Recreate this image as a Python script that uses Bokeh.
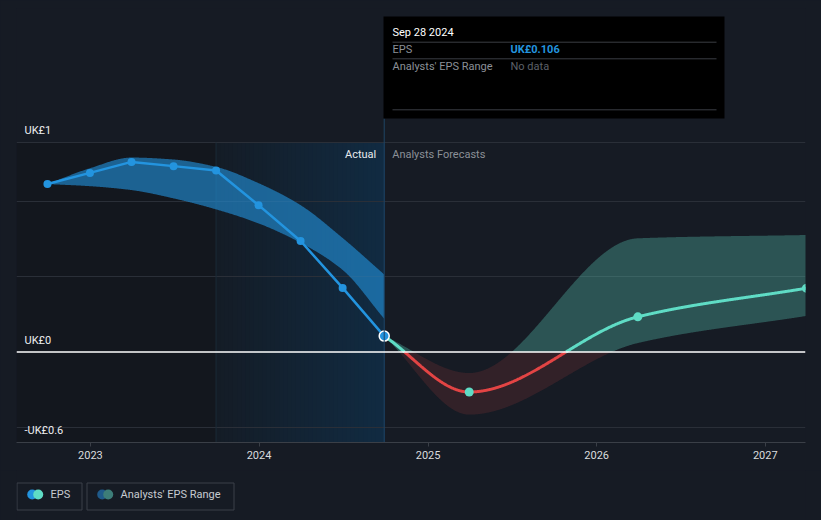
import numpy as np
from bokeh.plotting import figure
from bokeh.models import Range1d, FixedTicker, DatetimeTickFormatter, Grid, Span
from bokeh.layouts import column
from bokeh.core.properties import value
from bokeh.embed import file_html
from bokeh.resources import INLINE

# ---------------- data ----------------
past_dates = ["2022-09-30", "2022-12-31", "2023-03-31", "2023-06-30", "2023-09-30",
              "2023-12-31", "2024-03-31", "2024-06-30", "2024-09-28"]
past_eps = [1.115, 1.189, 1.262, 1.234, 1.205, 0.975, 0.737, 0.426, 0.106]
past_range_high = [1.115, 1.22, 1.291, 1.278, 1.229, 1.121, 0.975, 0.757, 0.515]
past_range_low = [1.115, 1.101, 1.075, 1.02, 0.947, 0.854, 0.725, 0.545, 0.221]

fc_dates = ["2024-09-28", "2025-03-31", "2026-03-31", "2027-03-31"]
fc_eps = [0.106, -0.265, 0.234, 0.424]
fc_high = [0.106, -0.139, 0.755, 0.777]
fc_low = [0.106, -0.415, 0.06, 0.24]

actual_window_start = "2023-09-30"
hover_date = "2024-09-28"
hover_label = "Sep 28 2024"
hover_eps_text = "UK£0.106"

year_ticks = ["2023-01-01", "2024-01-01", "2025-01-01", "2026-01-01", "2027-01-01"]
year_labels = ["2023", "2024", "2025", "2026", "2027"]
y_label_values = [1.39, 0.0, -0.6]
y_labels = ["UK£1", "UK£0", "-UK£0.6"]
grid_values = [-0.5, 0.5, 1.0, 1.39]

# ---------------- styling ----------------
BG = "#161b24"
LEFT_DARK = "#13171e"
GRID = "#2a2f38"
AXIS = "#3a3f47"
BLUE = "#2394df"
TEAL = "#5fdcc5"
RED = "#e34444"
FONT = "Roboto"

X0, X1 = "2022-07-25", "2027-03-29"
Y0, Y1 = -0.6, 2.28
FRAME_L, FRAME_R, FRAME_T, FRAME_B = 16, 805, 8, 442  # page pixels
W, H_MAIN, H_LEG = 821, 470, 50


def ms(d):
    return float(np.datetime64(d, "ms").astype("int64"))


DAY = 86400000.0
xs0, xs1 = ms(X0), ms(X1)


def PX(px):
    return xs0 + (px - FRAME_L) / (FRAME_R - FRAME_L) * (xs1 - xs0)


def PY(py):
    return Y1 - (py - FRAME_T) / (FRAME_B - FRAME_T) * (Y1 - Y0)


def pchip(xk, yk, xq):
    xk = np.asarray(xk, float); yk = np.asarray(yk, float); xq = np.asarray(xq, float)
    h = np.diff(xk); d = np.diff(yk) / h
    n = len(xk)
    m = np.zeros(n)
    for k in range(1, n - 1):
        if d[k - 1] * d[k] > 0:
            w1 = 2 * h[k] + h[k - 1]; w2 = h[k] + 2 * h[k - 1]
            m[k] = (w1 + w2) / (w1 / d[k - 1] + w2 / d[k])
    m[0] = d[0]; m[-1] = d[-1]
    idx = np.clip(np.searchsorted(xk, xq, side="right") - 1, 0, n - 2)
    t = (xq - xk[idx]) / h[idx]
    h00 = 2 * t**3 - 3 * t**2 + 1; h10 = t**3 - 2 * t**2 + t
    h01 = -2 * t**3 + 3 * t**2; h11 = t**3 - t**2
    return h00 * yk[idx] + h10 * h[idx] * m[idx] + h01 * yk[idx + 1] + h11 * h[idx] * m[idx + 1]


# ---------------- main figure ----------------
p = figure(width=W, height=H_MAIN, x_axis_type="datetime",
           x_range=Range1d(xs0, xs1), y_range=Range1d(Y0, Y1),
           y_axis_location=None, output_backend="svg", toolbar_location=None,
           min_border_left=FRAME_L, min_border_right=W - FRAME_R, min_border_top=FRAME_T,
           min_border_bottom=H_MAIN - FRAME_B,
           background_fill_color=BG, border_fill_color=BG, outline_line_color=None)
p.grid.visible = False
p.add_layout(Grid(dimension=1, ticker=FixedTicker(ticks=grid_values),
                  grid_line_color=GRID, grid_line_width=1))

tick_ms = [ms(d) for d in year_ticks]
ax = p.xaxis[0]
ax.ticker = FixedTicker(ticks=tick_ms)
fmt = "%Y"
ax.formatter = DatetimeTickFormatter(years=fmt, months=fmt, days=fmt, hours=fmt, hourmin=fmt,
                                     minutes=fmt, minsec=fmt, seconds=fmt,
                                     milliseconds=fmt, microseconds=fmt)
ax.major_label_overrides = {t: lab for t, lab in zip(tick_ms, year_labels)}
ax.axis_line_color = AXIS
ax.major_tick_line_color = AXIS
ax.major_tick_in = 0
ax.major_tick_out = 4
ax.minor_tick_line_color = None
ax.major_label_text_color = "#d9dbde"
ax.major_label_text_font = FONT
ax.major_label_text_font_size = "11px"
ax.major_label_standoff = 4

x_hover = ms(hover_date)
x_win = ms(actual_window_start)
top_grid = grid_values[-1]

# darker past area and gradient "actual" window (drawn beneath the grid)
p.quad(left=[xs0], right=[x_win], bottom=[Y0], top=[top_grid],
       fill_color=LEFT_DARK, line_color=None, level="image")
N = 40
edges = np.linspace(x_win, x_hover, N + 1)
c0 = np.array([20, 28, 38]); c1 = np.array([17, 43, 66])
cols = ["#%02x%02x%02x" % tuple(np.round(c0 + (c1 - c0) * (i + 0.5) / N).astype(int)) for i in range(N)]
p.quad(left=edges[:-1], right=[x_hover] * N, bottom=[Y0] * N, top=[top_grid] * N,
       fill_color=cols, line_color=None, level="image")
p.segment(x0=[x_win], y0=[Y0], x1=[x_win], y1=[top_grid], line_color="#1b2a38", line_width=1)

# past range band
pd_days = np.array([ms(d) for d in past_dates]) / DAY
tq = np.linspace(pd_days[0], pd_days[-1], 500)
p.varea(x=tq * DAY, y1=pchip(pd_days, past_range_low, tq), y2=pchip(pd_days, past_range_high, tq),
        fill_color=BLUE, fill_alpha=0.6)

# forecast band and line
fd_days = np.array([ms(d) for d in fc_dates]) / DAY
fq = np.linspace(fd_days[0], fd_days[-1], 900)
hi = pchip(fd_days, fc_high, fq)
lo = pchip(fd_days, fc_low, fq)
p.varea(x=fq * DAY, y1=np.maximum(lo, 0), y2=np.maximum(hi, 0), fill_color=TEAL, fill_alpha=0.3)
p.varea(x=fq * DAY, y1=np.minimum(lo, 0), y2=np.minimum(hi, 0), fill_color=RED, fill_alpha=0.14)

fy = pchip(fd_days, fc_eps, fq)
xx, yy = [fq[0]], [fy[0]]
for i in range(1, len(fq)):
    if fy[i - 1] * fy[i] < 0:
        xc = fq[i - 1] + (fq[i] - fq[i - 1]) * fy[i - 1] / (fy[i - 1] - fy[i])
        xx.append(xc); yy.append(0.0)
    xx.append(fq[i]); yy.append(fy[i])
xx = np.array(xx) * DAY; yy = np.array(yy)
p.line(xx, np.where(yy >= 0, yy, np.nan), line_color=TEAL, line_width=3)
p.line(xx, np.where(yy <= 0, yy, np.nan), line_color=RED, line_width=3)

# zero line
p.add_layout(Span(location=0, dimension="width", line_color="#ffffff", line_width=1.5))

# past EPS line
px_ms = [ms(d) for d in past_dates]
p.line(px_ms, past_eps, line_color=BLUE, line_width=2.5)
p.scatter(px_ms[:-1], past_eps[:-1], size=8, fill_color=BLUE, line_color=None)
p.scatter([px_ms[-1]], [past_eps[-1]], size=10, fill_color=BLUE, line_color="#ffffff", line_width=1.5)

# forecast markers
fx_ms = [ms(d) for d in fc_dates]
p.scatter(fx_ms[1:], fc_eps[1:], size=9, fill_color=TEAL, line_color=None)

# hover vertical line
p.segment(x0=[x_hover], y0=[PY(118)], x1=[x_hover], y1=[Y0], line_color="#1f4565", line_width=1)

# Actual / Analysts Forecasts
p.text(x=[x_hover], y=[top_grid], text=["Actual"], x_offset=-8, y_offset=12,
       text_align="right", text_baseline="middle", text_color="#e8eaed",
       text_font=value(FONT), text_font_size="11px")
p.text(x=[x_hover], y=[top_grid], text=["Analysts Forecasts"], x_offset=8, y_offset=12,
       text_align="left", text_baseline="middle", text_color="#8b9097",
       text_font=value(FONT), text_font_size="11px")

# y labels
p.text(x=[xs0] * len(y_labels), y=y_label_values, text=y_labels, x_offset=8, y_offset=-12,
       text_align="left", text_baseline="middle", text_color="#eceef0",
       text_font=value(FONT), text_font_size="11px")

# tooltip box
p.quad(left=[PX(383)], right=[PX(724)], top=[PY(16)], bottom=[PY(118)],
       fill_color="#000000", line_color=None)
p.segment(x0=[PX(392)] * 3, x1=[PX(716)] * 3, y0=[PY(41.7), PY(58.3), PY(109.3)],
          y1=[PY(41.7), PY(58.3), PY(109.3)], line_color="#3a3d43", line_width=1)
p.text(x=[PX(392)], y=[PY(31.5)], text=[hover_label], text_align="left", text_baseline="middle",
       text_color="#ffffff", text_font=value(FONT), text_font_size="11px")
p.text(x=[PX(392), PX(392)], y=[PY(49), PY(66)], text=["EPS", "Analysts' EPS Range"],
       text_align="left", text_baseline="middle", text_color="#8b9097",
       text_font=value(FONT), text_font_size="11px")
p.text(x=[PX(510)], y=[PY(49)], text=[hover_eps_text], text_align="left", text_baseline="middle",
       text_color=BLUE, text_font=value(FONT), text_font_size="11px", text_font_style="bold")
p.text(x=[PX(510)], y=[PY(66)], text=["No data"], text_align="left", text_baseline="middle",
       text_color="#5d6169", text_font=value(FONT), text_font_size="11px")

# ---------------- legend figure (coordinates = page pixels) ----------------
lg = figure(width=W, height=H_LEG, x_range=Range1d(FRAME_L, FRAME_R), y_range=Range1d(H_LEG, 0),
            x_axis_location=None, y_axis_location=None, output_backend="svg",
            toolbar_location=None, min_border_left=FRAME_L, min_border_right=W - FRAME_R,
            min_border_top=0, min_border_bottom=0,
            background_fill_color=BG, border_fill_color=BG, outline_line_color=None)
lg.grid.visible = False
lg.quad(left=[16.5, 86.5], right=[81.5, 233.5], top=[12.5, 12.5], bottom=[39.5, 39.5],
        fill_color=None, line_color="#3b4049", line_width=1)
lg.scatter([31.7], [24], size=10, fill_color=BLUE, line_color=None)
lg.scatter([37.7], [24], size=10, fill_color=TEAL, line_color=None)
lg.scatter([101.7], [24], size=10, fill_color="#1f5a8a", line_color=None)
lg.scatter([107.7], [24], size=10, fill_color="#3d7d78", line_color=None)
lg.text(x=[50, 120], y=[24, 24], text=["EPS", "Analysts' EPS Range"], text_align="left",
        text_baseline="middle", text_color="#c7cbd1", text_font=value(FONT), text_font_size="11px")

layout = column(p, lg, spacing=0)
html = file_html(layout, INLINE, title="EPS chart")
html = html.replace("<head>", "<head><style>html,body{background:#161b24;margin:0;padding:0;overflow:hidden;}</style>", 1)
open("out.html", "w").write(html)
